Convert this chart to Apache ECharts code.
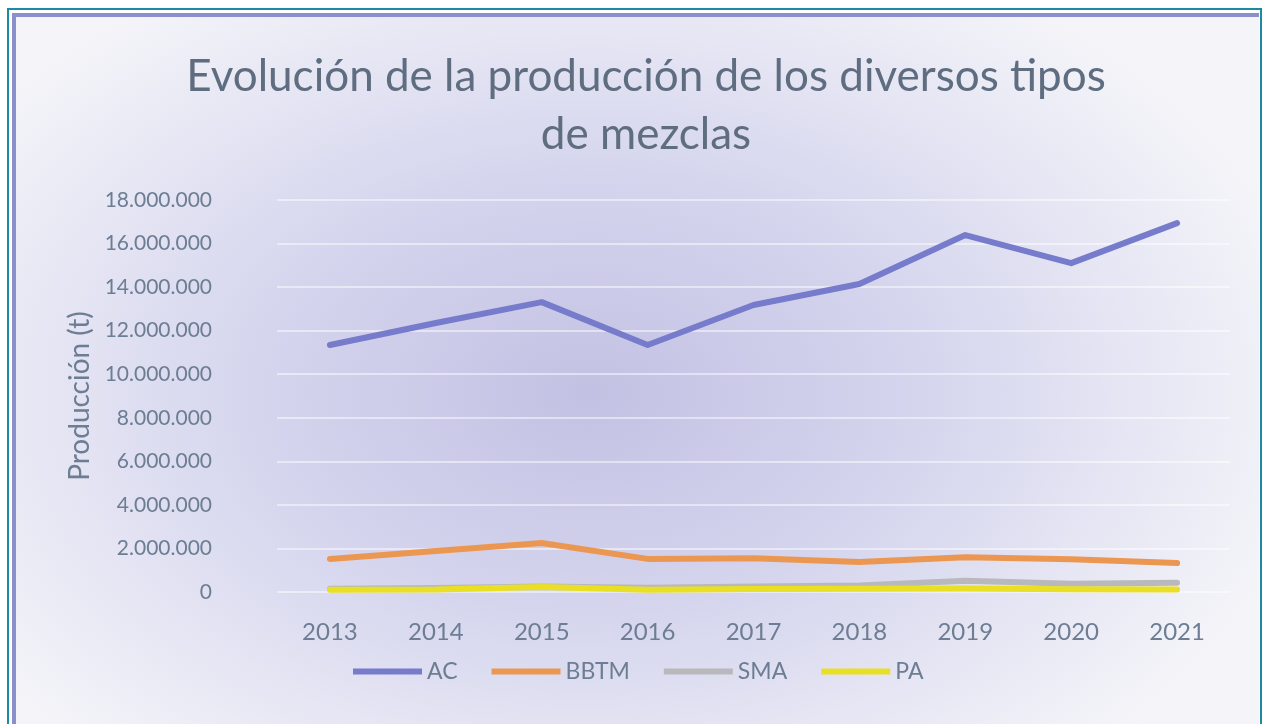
<!DOCTYPE html>
<html>
<head>
<meta charset="utf-8">
<script src="https://cdn.jsdelivr.net/npm/echarts@6/dist/echarts.min.js"></script>
<style>
  html, body { margin: 0; padding: 0; background: #ffffff; }
  .frame {
    position: absolute; left: 7px; top: 8px; width: 1251px; height: 730px;
    border-left: 2px solid #1b8aa5; border-top: 2px solid #1b8aa5; border-right: 2px solid #1b8aa5;
  }
  .inner {
    position: absolute; left: 3px; top: 3px; right: 1px; bottom: 0;
    border-left: 4px solid #8b90cc; border-top: 4px solid #8b90cc;
    background: radial-gradient(ellipse 60% 68% at 46% 52%, #c3c1e3 0%, #d5d5ee 45%, #ebebf6 82%, #f5f5f9 100%);
  }
  #chart { position: absolute; left: 0; top: 0; width: 1265px; height: 724px; }
</style>
</head>
<body>
<div class="frame"><div class="inner"></div></div>
<div id="chart"></div>
<script>
// datos (t)
var years = ['2013', '2014', '2015', '2016', '2017', '2018', '2019', '2020', '2021'];
var acData   = [11340000, 12350000, 13310000, 11340000, 13180000, 14140000, 16390000, 15100000, 16940000];
var bbtmData = [1520000, 1880000, 2250000, 1520000, 1550000, 1380000, 1600000, 1500000, 1330000];
var smaData  = [150000, 180000, 250000, 200000, 250000, 300000, 520000, 380000, 420000];
var paData   = [100000, 110000, 230000, 100000, 140000, 150000, 160000, 130000, 120000];
var seriesNames = ['AC', 'BBTM', 'SMA', 'PA'];
var seriesColors = ['#767bcb', '#ec9751', '#b9b9bd', '#e9df25'];

var txtColor = '#6d7d93';
var fontFam = 'Lato, "Open Sans", sans-serif';

function fmt(v){
	return String(v).replace(/\B(?=(\d{3})+(?!\d))/g, '.');
}

var chart = echarts.init(document.getElementById('chart'));
var allData = [acData, bbtmData, smaData, paData];
var series = [];
for (var i = 0; i < seriesNames.length; i++) {
	series.push({
		name: seriesNames[i],
		type: 'line',
		data: allData[i],
		symbol: 'none',
		lineStyle: { width: 6, color: seriesColors[i], cap: 'round', join: 'round' },
		itemStyle: { color: seriesColors[i] }
	});
}

var option = {
	backgroundColor: 'transparent',
	animation: false,
	title: {
		text: 'Evolución de la producción de los diversos tipos\nde mezclas',
		left: 641,
		textAlign: 'center',
		top: 43,
		textStyle: { color: '#5f6d80', fontFamily: fontFam, fontWeight: 'normal', fontSize: 44, lineHeight: 58 }
	},
	legend: {
		data: seriesNames,
		left: 348,
		top: 655,
		itemWidth: 69,
		itemHeight: 6,
		itemGap: 34,
		icon: 'rect',
		textStyle: { color: txtColor, fontFamily: fontFam, fontSize: 23 }
	},
	grid: { left: 277, right: 35, top: 200, bottom: 132 },
	xAxis: {
		type: 'category',
		data: years,
		boundaryGap: true,
		axisLine: { show: false },
		axisTick: { show: false },
		axisLabel: { color: txtColor, fontFamily: fontFam, fontSize: 24, margin: 28 }
	},
	yAxis: {
		type: 'value',
		min: 0,
		max: 18000000,
		interval: 2000000,
		name: 'Producción (t)',
		nameLocation: 'middle',
		nameGap: 183,
		nameRotate: 90,
		nameTextStyle: { color: txtColor, fontFamily: fontFam, fontSize: 28 },
		axisLine: { show: false },
		axisTick: { show: false },
		axisLabel: { color: txtColor, fontFamily: fontFam, fontSize: 21, margin: 65, formatter: function(v){ return fmt(v); } },
		splitLine: { lineStyle: { color: 'rgba(255,255,255,0.65)', width: 1.5 } }
	},
	series: series
};
chart.setOption(option);
</script>
</body>
</html>
